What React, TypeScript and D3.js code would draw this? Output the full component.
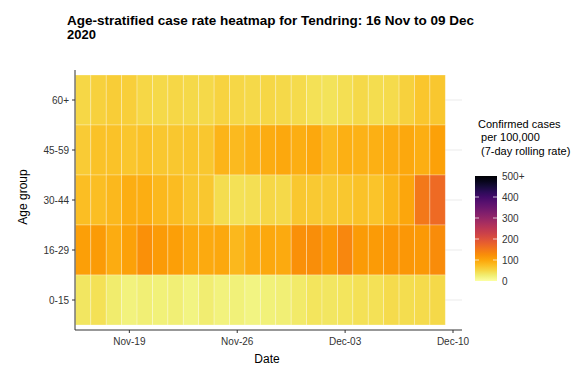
import * as d3 from 'd3'

const AGE_GROUPS = ['60+', '45-59', '30-44', '16-29', '0-15']
const START_DATE = new Date(2020, 10, 16)
const N_DAYS = 24
const DATES = d3.range(N_DAYS).map((i) => d3.timeDay.offset(START_DATE, i))

// 7-day rolling case rate per 100k, one row per age group, 16 Nov .. 09 Dec
const RATE_60P = [50, 55, 60, 57, 50, 48, 50, 47, 48, 53, 50, 48, 50, 48, 46, 40, 38, 42, 48, 43, 46, 56, 68, 66]
const RATE_45_59 = [62, 72, 72, 67, 72, 65, 65, 67, 65, 85, 80, 86, 92, 96, 91, 97, 80, 88, 87, 88, 92, 97, 91, 104]
const RATE_30_44 = [76, 76, 82, 90, 90, 82, 78, 65, 65, 44, 40, 42, 50, 48, 65, 63, 63, 65, 72, 69, 83, 98, 150, 165]
const RATE_16_29 = [106, 110, 92, 104, 122, 110, 106, 94, 94, 96, 82, 92, 96, 95, 122, 124, 112, 132, 110, 110, 115, 115, 112, 126]
const RATE_0_15 = [35, 40, 28, 20, 25, 23, 25, 19, 26, 20, 23, 18, 23, 24, 30, 36, 34, 36, 40, 40, 45, 44, 45, 47]
const ROWS = [RATE_60P, RATE_45_59, RATE_30_44, RATE_16_29, RATE_0_15]

const X_TICKS = [new Date(2020, 10, 19), new Date(2020, 10, 26), new Date(2020, 11, 3), new Date(2020, 11, 10)]
const LEGEND_TICKS = [0, 100, 200, 300, 400, 500]

const W = 581
const H = 372
const FONT = "'Liberation Sans', Arial, sans-serif"

export default function App() {
  const x = d3.scaleTime()
    .domain([new Date(2020, 10, 15, 12), new Date(2020, 11, 10, 14)])
    .range([75.4, 462])
  const y = d3.scaleBand().domain(AGE_GROUPS).range([75, 325])
  const color = d3.scaleSequential((t: number) => d3.interpolateInferno(1 - t)).domain([0, 500])
  const fmt = d3.timeFormat('%b-%d')

  const legendY = d3.scaleLinear().domain([0, 500]).range([281, 176])
  const stops = d3.range(0, 1.0001, 0.05)

  const tiles = AGE_GROUPS.flatMap((g, gi) =>
    DATES.map((d, di) => ({ g, d, v: ROWS[gi][di] })))

  return (
    <svg width={W} height={H} style={{ position: 'absolute', left: 0, top: 0, background: 'white' }}
      fontFamily={FONT}>
      <defs>
        <linearGradient id="cbar" x1="0" y1="1" x2="0" y2="0">
          {stops.map((s) => (
            <stop key={s} offset={s} stopColor={color(s * 500)} />
          ))}
        </linearGradient>
      </defs>

      {/* title */}
      <text x={67} y={25} fontSize={13} fontWeight="bold" fill="#000" textLength={407} lengthAdjust="spacingAndGlyphs">
        Age-stratified case rate heatmap for Tendring: 16 Nov to 09 Dec
      </text>
      <text x={67} y={39} fontSize={13} fontWeight="bold" fill="#000">2020</text>

      {/* gridlines */}
      {AGE_GROUPS.map((g) => (
        <line key={g} x1={75} x2={462} y1={y(g)! + y.bandwidth() / 2} y2={y(g)! + y.bandwidth() / 2}
          stroke="#ebebeb" strokeWidth={1} />
      ))}

      {/* tiles */}
      {tiles.map((t) => {
        const x0 = x(d3.timeHour.offset(t.d, -12))
        const x1 = x(d3.timeHour.offset(t.d, 12))
        return (
          <rect key={t.g + t.d.getTime()} x={x0} y={y(t.g)} width={x1 - x0} height={y.bandwidth()}
            fill={color(t.v)} stroke="white" strokeOpacity={0.35} strokeWidth={0.8} />
        )
      })}

      {/* axes */}
      <line x1={75} x2={75} y1={70} y2={330} stroke="#333" strokeWidth={1} />
      <line x1={75} x2={462} y1={330} y2={330} stroke="#333" strokeWidth={1} />
      {AGE_GROUPS.map((g) => {
        const cy = y(g)! + y.bandwidth() / 2
        return (
          <g key={g}>
            <line x1={72} x2={75} y1={cy} y2={cy} stroke="#333" />
            <text x={69} y={cy} dy="0.35em" textAnchor="end" fontSize={10} fill="#333">{g}</text>
          </g>
        )
      })}
      {X_TICKS.map((d) => (
        <g key={d.getTime()}>
          <line x1={x(d)} x2={x(d)} y1={330} y2={333} stroke="#333" />
          <text x={x(d)} y={345} textAnchor="middle" fontSize={10} fill="#333">{fmt(d)}</text>
        </g>
      ))}
      <text x={267} y={363} textAnchor="middle" fontSize={12} fill="#000">Date</text>
      <text transform="translate(27,197) rotate(-90)" textAnchor="middle" fontSize={12} fill="#000">Age group</text>

      {/* legend */}
      <text x={478} y={128} fontSize={11} fill="#000">Confirmed cases</text>
      <text x={478} y={141} fontSize={11} fill="#000" xmlSpace="preserve">{' per 100,000'}</text>
      <text x={478} y={155} fontSize={11} fill="#000" xmlSpace="preserve">{' (7-day rolling rate)'}</text>
      <rect x={475} y={176} width={22} height={105} fill="url(#cbar)" />
      {LEGEND_TICKS.map((v) => (
        <g key={v}>
          {v > 0 && v < 500 && (
            <>
              <line x1={475} x2={479} y1={legendY(v)} y2={legendY(v)} stroke="white" strokeOpacity={0.7} />
              <line x1={493} x2={497} y1={legendY(v)} y2={legendY(v)} stroke="white" strokeOpacity={0.7} />
            </>
          )}
          <text x={502} y={legendY(v)} dy="0.35em" fontSize={10} fill="#333">{v === 500 ? '500+' : v}</text>
        </g>
      ))}
    </svg>
  )
}
